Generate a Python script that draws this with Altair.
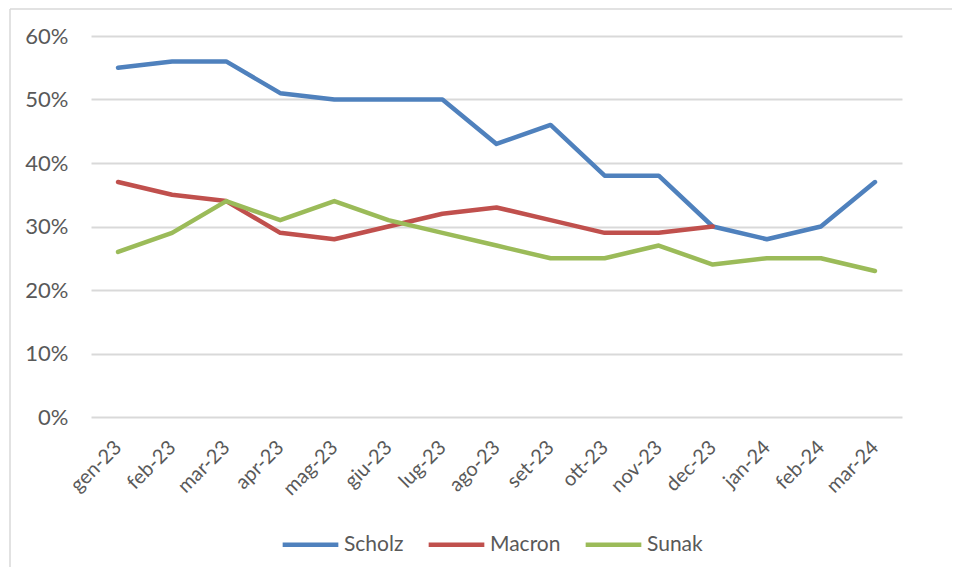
import altair as alt
import pandas as pd

months = ["gen-23", "feb-23", "mar-23", "apr-23", "mag-23", "giu-23", "lug-23",
          "ago-23", "set-23", "ott-23", "nov-23", "dec-23", "jan-24", "feb-24", "mar-24"]
scholz = [55, 56, 56, 51, 50, 50, 50, 43, 46, 38, 38, 30, 28, 30, 37]
macron = [37, 35, 34, 29, 28, 30, 32, 33, 31, 29, 29, 30]
sunak = [26, 29, 34, 31, 34, 31, 29, 27, 25, 25, 27, 24, 25, 25, 23]
series = ["Scholz", "Macron", "Sunak"]
colors = ["#4F81BD", "#C0504D", "#9BBB59"]

rows = []
for name, vals in zip(series, [scholz, macron, sunak]):
    for m, v in zip(months, vals):
        rows.append({"mese": m, "serie": name, "valore": v / 100})
df = pd.DataFrame(rows)

FONT = "Lato"
GRAY = "#595959"

lines = alt.Chart(df).mark_line(strokeWidth=4.5, strokeCap="round", strokeJoin="round").encode(
    x=alt.X("mese:N", sort=months, title=None,
            scale=alt.Scale(type="point", padding=0.5),
            axis=alt.Axis(labelAngle=-45, labelAlign="right", labelBaseline="middle",
                          labelPadding=27, labelFontSize=20, labelColor=GRAY, labelFont=FONT,
                          domain=False, ticks=False, grid=False)),
    y=alt.Y("valore:Q", title=None,
            scale=alt.Scale(domain=[0, 0.6], nice=False),
            axis=alt.Axis(format=".0%", values=[0, 0.1, 0.2, 0.3, 0.4, 0.5, 0.6],
                          labelFontSize=22, labelColor=GRAY, labelFont=FONT, labelPadding=23,
                          domain=False, ticks=False, gridColor="#D9D9D9", gridWidth=1.8)),
    color=alt.Color("serie:N", sort=series, title=None,
                    scale=alt.Scale(domain=series, range=colors),
                    legend=alt.Legend(orient="none", legendX=189, legendY=478, direction="horizontal",
                                      symbolType="stroke", symbolSize=3100, symbolStrokeWidth=4.5,
                                      labelFontSize=21, labelColor=GRAY, labelFont=FONT,
                                      labelOffset=3, columnPadding=15)),
    detail="serie:N",
)

frame = pd.DataFrame([{"k": 1}])
vline = alt.Chart(frame).mark_rule(color="#D9D9D9", strokeWidth=1.5).encode(
    x=alt.value(-81), y=alt.value(-27), y2=alt.value(700))
hline = alt.Chart(frame).mark_rule(color="#D9D9D9", strokeWidth=1.5).encode(
    x=alt.value(-81), x2=alt.value(880), y=alt.value(-27))

chart = alt.layer(vline, hline, lines).properties(
    width=811, height=381,
    background="white",
    autosize=alt.AutoSizeParams(type="none"),
    padding={"left": 83, "top": 28, "right": 50, "bottom": 150},
).configure_view(strokeWidth=0, stroke="transparent")

chart.save("out.html", embed_options={"renderer": "svg", "actions": False})
